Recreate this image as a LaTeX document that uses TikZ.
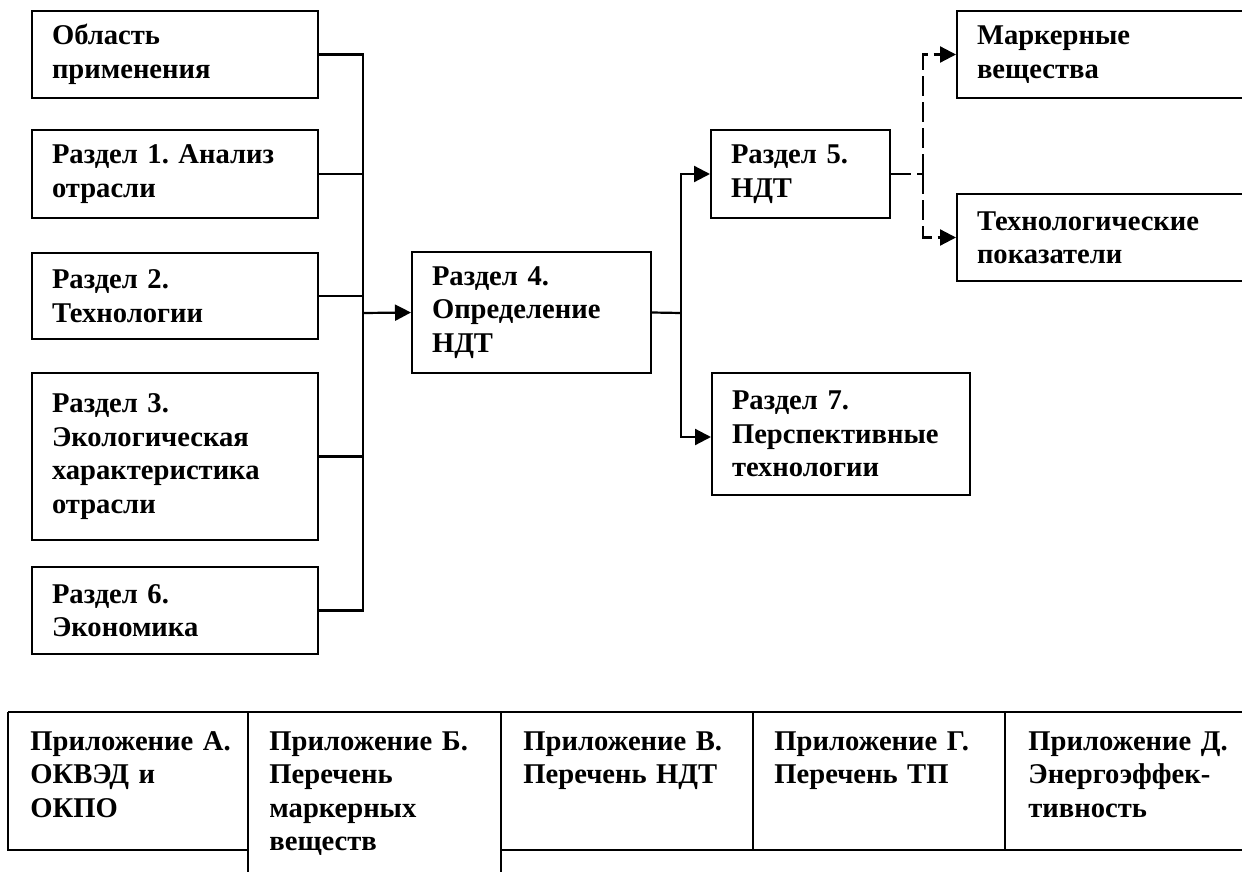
\documentclass[tikz,border=0pt]{standalone}
\usepackage{fontspec}
\setmainfont{Liberation Serif}
\usetikzlibrary{arrows.meta}

\begin{document}
\frenchspacing
\begin{tikzpicture}[x=0.5pt, y=-0.5pt,
  >={Triangle[length=8pt, width=8pt]},
  box/.style={draw, line width=1pt, align=left, inner xsep=10pt, inner ysep=0pt,
    font=\bfseries\fontsize{14.3pt}{16.7pt}\selectfont},
  cell/.style={anchor=base west, align=left, inner sep=0pt, text width=112pt,
    font=\bfseries\fontsize{14.3pt}{16.8pt}\selectfont},
  link/.style={draw, line width=1.1pt},
  dashlink/.style={draw, line width=1.1pt, dash pattern=on 10pt off 3pt},
  tabline/.style={draw, line width=0.8pt}]

\useasboundingbox (0,0) rectangle (1242,872);

% left column
\node [box, text width=123pt, minimum height=43.5pt] (0) at (175,54.5)  {Область\\применения};
\node [box, text width=123pt, minimum height=44pt  ] (1) at (175,174)   {Раздел 1. Анализ\\отрасли};
\node [box, text width=123pt, minimum height=43pt  ] (2) at (175,296)   {Раздел 2.\\Технологии};
\node [box, text width=123pt, minimum height=83.5pt] (3) at (175,456.5) {Раздел 3.\\Экологическая\\характеристика\\отрасли};
\node [box, text width=123pt, minimum height=43.5pt] (4) at (175,610.5) {Раздел 6.\\Экономика};

% middle and right
\node [box, text width=99.5pt,  minimum height=60.5pt] (5) at (531.5,312.5) {Раздел 4.\\Определение\\НДТ};
\node [box, text width=69.5pt,  minimum height=44pt  ] (6) at (800.5,174)   {Раздел 5.\\НДТ};
\node [box, text width=109pt,   minimum height=61pt  ] (7) at (841,434)     {Раздел 7.\\Перспективные\\технологии};
\node [box, text width=124.5pt, minimum height=43.5pt] (8) at (1101.5,54.5) {Маркерные\\вещества};
\node [box, text width=124.5pt, minimum height=43.5pt] (9) at (1101.5,237.5) {Технологические\\показатели};

\coordinate (bus)  at (363,313);
\coordinate (fork) at (681,313);
\coordinate (dash) at (923,174);

\path [link] (0.east) -| (bus);
\path [link] (4.east) -| (bus);
\path [link] (1.east) -- (1.east -| bus);
\path [link] (2.east) -- (2.east -| bus);
\path [link] (3.east) -- (3.east -| bus);
\path [link, ->] (bus) -- (5.west);

\path [link] (5.east) -- (fork);
\path [link, ->] (fork) |- (6.west);
\path [link, ->] (fork) |- ([yshift=-1.5pt]7.west);

\path [dashlink] (6.east) -- (dash);
\path [dashlink, ->] (dash) |- (8.west);
\path [dashlink, ->] (dash) |- (9.west);

% appendix table
\path [tabline, line width=1pt] (8,712) -- (1250,712);
\path [tabline] (8,712) -- (8,850) -- (248,850);
\path [tabline] (501,850) -- (1250,850);
\path [tabline] (248,712) -- (248,880);
\path [tabline] (501,712) -- (501,880);
\path [tabline] (753,712) -- (753,850);
\path [tabline] (1005,712) -- (1005,850);

\node [cell] (10) at (30,750)   {Приложение А.\\ОКВЭД и\\ОКПО};
\node [cell] (11) at (269,750)  {Приложение Б.\\Перечень\\маркерных\\веществ};
\node [cell] (12) at (523,750)  {Приложение В.\\Перечень НДТ};
\node [cell] (13) at (774,750)  {Приложение Г.\\Перечень ТП};
\node [cell] (14) at (1028,750) {Приложение Д.\\Энергоэффек-\\тивность};

\end{tikzpicture}
\end{document}
